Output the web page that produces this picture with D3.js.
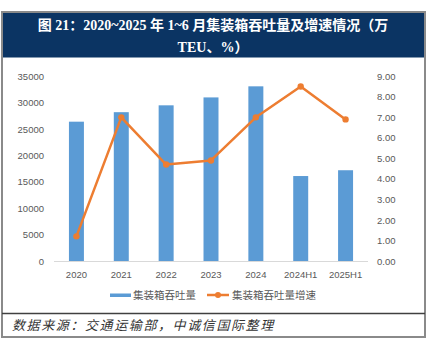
<!DOCTYPE html>
<html><head><meta charset="utf-8">
<script src="https://cdn.jsdelivr.net/npm/d3@7/dist/d3.min.js"></script>
<style>body{margin:0;background:#fff}svg{display:block}</style>
</head><body><svg id="c" width="427" height="350"></svg>
<script>
const categories = ["2020","2021","2022","2023","2024","2024H1","2025H1"];
const throughput = [26400, 28200, 29500, 31000, 33100, 16100, 17200];
const growth = [1.2, 7.0, 4.7, 4.9, 7.0, 8.5, 6.9];
const leftTicks = [0,5000,10000,15000,20000,25000,30000,35000];
const rightTicks = [0,1,2,3,4,5,6,7,8,9];
const titleLines = ["图 21：2020~2025 年 1~6 月集装箱吞吐量及增速情况（万", "TEU、%）"];
const seriesNames = ["集装箱吞吐量", "集装箱吞吐量增速"];
const sourceText = "数据来源：交通运输部，中诚信国际整理";

const svg = d3.select("#c");
const blue = "#5B9BD5", orange = "#ED7D31", grey = "#595959";

// frame
svg.append("rect").attr("x",3).attr("y",12.5).attr("width",421).attr("height",45).attr("fill","#0b3463");
svg.append("rect").attr("x",2).attr("y",12).attr("width",423).attr("height",325)
  .attr("fill","none").attr("stroke","#8a8a8a").attr("stroke-width",2);
svg.append("line").attr("x1",2).attr("x2",425).attr("y1",313.5).attr("y2",313.5)
  .attr("stroke","#404040").attr("stroke-width",1.5);

// title
const tf = "'Liberation Serif','Noto Sans CJK SC',serif";
svg.selectAll("text.title").data(titleLines).join("text").attr("class","title")
  .attr("x",213).attr("y",(d,i)=>30+i*22).attr("text-anchor","middle")
  .attr("fill","#fff").attr("font-family",tf).attr("font-weight","bold").attr("font-size",14)
  .text(d=>d);

const x = d3.scaleBand().domain(categories).range([54,368]).paddingInner(0.666).paddingOuter(0.333);
const yL = d3.scaleLinear().domain([0,35000]).range([261,76.3]);
const yR = d3.scaleLinear().domain([0,9]).range([261,76.3]);

const af = "'Liberation Sans',Arial,sans-serif";
const axL = svg.append("g").attr("transform","translate(54,0)")
  .call(d3.axisLeft(yL).tickValues(leftTicks).tickSize(0).tickPadding(10).tickFormat(d3.format("d")));
const axR = svg.append("g").attr("transform","translate(368,0)")
  .call(d3.axisRight(yR).tickValues(rightTicks).tickSize(0).tickPadding(9).tickFormat(d3.format(".2f")));
const axB = svg.append("g").attr("transform","translate(0,261)")
  .call(d3.axisBottom(x).tickSize(0).tickPadding(10));
[axL,axR,axB].forEach(g=>{
  g.select(".domain").remove();
  g.selectAll("text").attr("fill",grey).attr("font-family",af).attr("font-size",9.5);
});

svg.append("g").selectAll("rect").data(categories).join("rect")
  .attr("x",d=>x(d)).attr("width",x.bandwidth())
  .attr("y",(d,i)=>yL(throughput[i])).attr("height",(d,i)=>261-yL(throughput[i]))
  .attr("fill",blue);

svg.append("line").attr("x1",54).attr("x2",368).attr("y1",261.5).attr("y2",261.5)
  .attr("stroke","#d9d9d9").attr("stroke-width",1);

const line = d3.line().x((d,i)=>x(categories[i])+x.bandwidth()/2).y(d=>yR(d));
svg.append("path").datum(growth).attr("d",line).attr("fill","none")
  .attr("stroke",orange).attr("stroke-width",2.5).attr("stroke-linejoin","round");
svg.append("g").selectAll("circle").data(growth).join("circle")
  .attr("cx",(d,i)=>x(categories[i])+x.bandwidth()/2).attr("cy",d=>yR(d)).attr("r",3.2)
  .attr("fill",orange);

// legend
const lf = "'Noto Sans CJK SC',sans-serif";
svg.append("rect").attr("x",110).attr("y",293.5).attr("width",21).attr("height",3.5).attr("fill",blue);
svg.append("text").attr("x",133).attr("y",299).attr("fill",grey).attr("font-family",lf).attr("font-size",10.5).text(seriesNames[0]);
svg.append("line").attr("x1",207).attr("x2",229).attr("y1",295).attr("y2",295).attr("stroke",orange).attr("stroke-width",2.5);
svg.append("circle").attr("cx",218).attr("cy",295).attr("r",3).attr("fill",orange);
svg.append("text").attr("x",232).attr("y",299).attr("fill",grey).attr("font-family",lf).attr("font-size",10.5).text(seriesNames[1]);

// source
svg.append("text").attr("x",12).attr("y",330).attr("fill","#333").attr("font-family",lf)
  .attr("font-style","italic").attr("font-size",13).attr("letter-spacing",1.6).text(sourceText);
</script></body></html>
